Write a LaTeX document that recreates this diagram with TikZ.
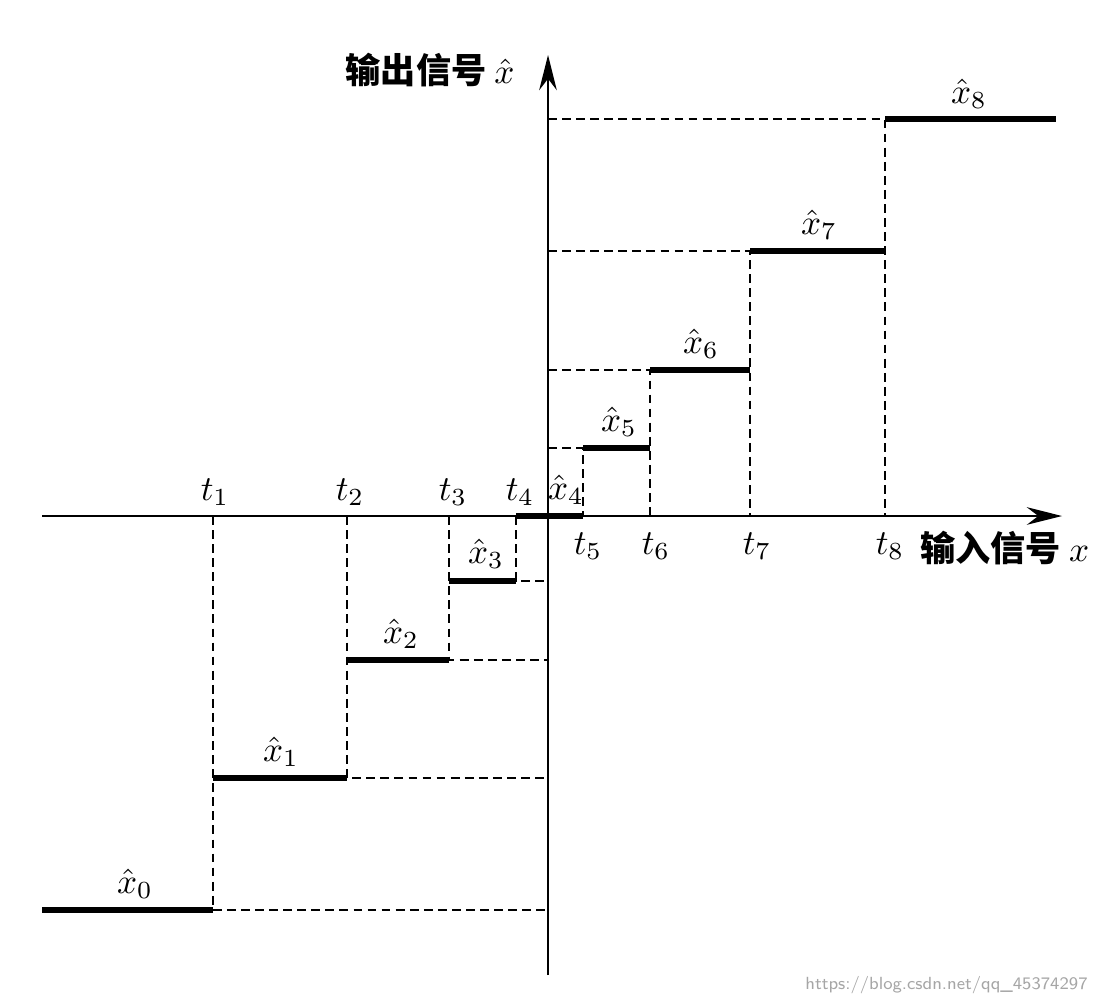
\documentclass[tikz,border=0pt]{standalone}
\usepackage{fontspec}
\newfontfamily\cjk{Noto Sans CJK SC}
\usetikzlibrary{arrows.meta}
\begin{document}
\begin{tikzpicture}[x=0.01cm,y=-0.01cm,
	axis/.style={line width=0.6pt,-{Stealth[length=10pt,width=5pt]}},
	level/.style={line width=1.5pt},
	guide/.style={line width=0.4pt,dash pattern=on 2.5pt off 1.5pt},
	lbl/.style={font=\normalsize}]

	\useasboundingbox (0,0) rectangle (1110,1000);

	% axes
	\coordinate (xs) at (42,516);
	\coordinate (xe) at (1062,516);
	\coordinate (ys) at (548,975);
	\coordinate (ye) at (548,55);
	\draw[axis] (xs) -- (xe);
	\draw[axis] (ys) -- (ye);
	\node[lbl,anchor=east] (ylab) at (527,70) {\cjk\bfseries 输出信号 $\hat{x}$};
	\node[lbl,anchor=west] (xlab) at (908,548) {\cjk\bfseries 输入信号 $x$};

	% negative side
	\draw[level] (42,910) -- (213,910);
	\draw[level] (213,778) -- (347,778);
	\draw[level] (347,660) -- (449,660);
	\draw[level] (449,581) -- (516,581);
	\draw[level] (516,516) -- (583,516);
	\draw[guide] (213,516) -- (213,910) -- (548,910);
	\draw[guide] (347,516) -- (347,778) -- (548,778);
	\draw[guide] (449,516) -- (449,660) -- (548,660);
	\draw[guide] (516,516) -- (516,581) -- (548,581);

	% positive side
	\draw[level] (583,448) -- (650,448);
	\draw[level] (650,370) -- (750,370);
	\draw[level] (750,251) -- (885,251);
	\draw[level] (885,119) -- (1056,119);
	\draw[guide] (548,448) -- (583,448) -- (583,516);
	\draw[guide] (548,370) -- (650,370) -- (650,516);
	\draw[guide] (548,251) -- (750,251) -- (750,516);
	\draw[guide] (548,119) -- (885,119) -- (885,516);

	% thresholds
	\node[lbl] (t1) at (215,492) {$t_1$};
	\node[lbl] (t2) at (350,492) {$t_2$};
	\node[lbl] (t3) at (453,492) {$t_3$};
	\node[lbl] (t4) at (520,492) {$t_4$};
	\node[lbl] (t5) at (588,546) {$t_5$};
	\node[lbl] (t6) at (656,546) {$t_6$};
	\node[lbl] (t7) at (757,546) {$t_7$};
	\node[lbl] (t8) at (890,546) {$t_8$};

	% output levels
	\node[lbl] (q0) at (135,884) {$\hat{x}_0$};
	\node[lbl] (q1) at (281,752) {$\hat{x}_1$};
	\node[lbl] (q2) at (401,634) {$\hat{x}_2$};
	\node[lbl] (q3) at (486,554) {$\hat{x}_3$};
	\node[lbl] (q4) at (566,490) {$\hat{x}_4$};
	\node[lbl] (q5) at (619,422) {$\hat{x}_5$};
	\node[lbl] (q6) at (701,344) {$\hat{x}_6$};
	\node[lbl] (q7) at (819,225) {$\hat{x}_7$};
	\node[lbl] (q8) at (969,94) {$\hat{x}_8$};

	\node[text=black!35,font=\tiny\sffamily,anchor=east] (mark) at (1100,985) {https://blog.csdn.net/qq\_45374297};

\end{tikzpicture}
\end{document}
